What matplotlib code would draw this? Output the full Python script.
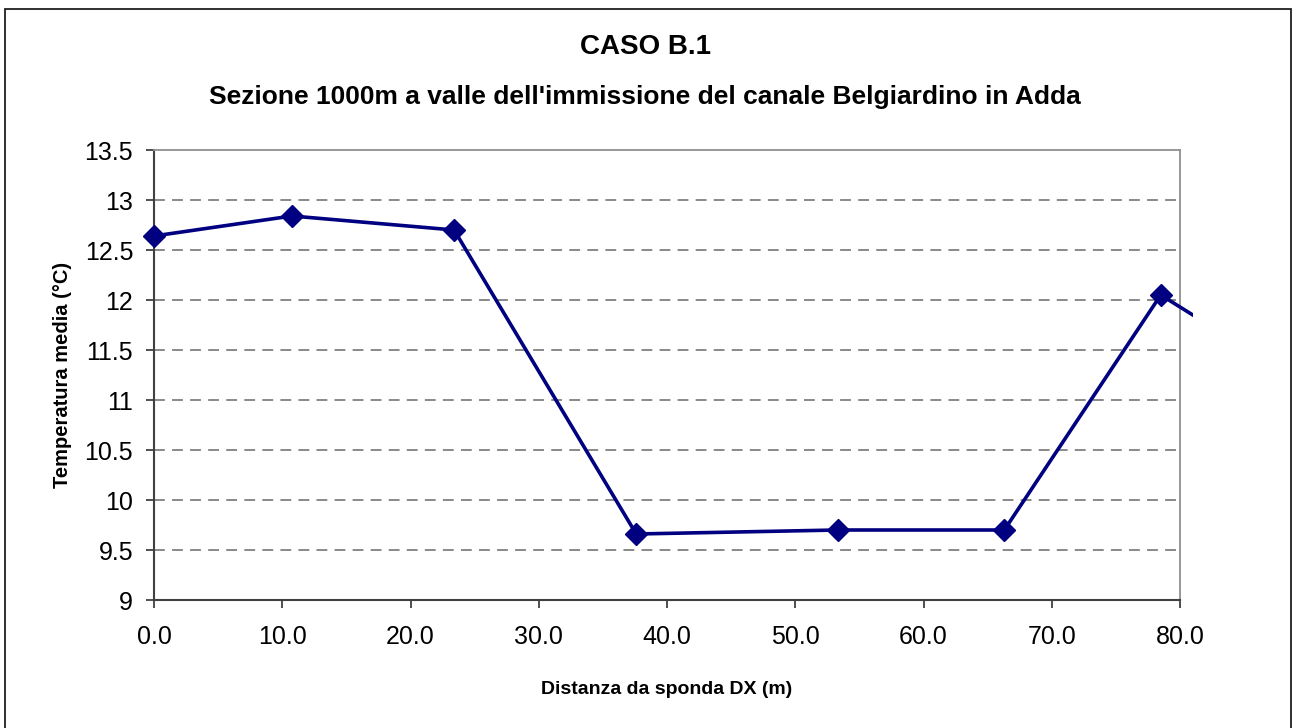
"""CASO B.1 - temperatura media lungo la sezione"""
import matplotlib
matplotlib.use("Agg")
import matplotlib.pyplot as plt
from matplotlib.patches import Rectangle

plt.rcParams["font.family"] = ["Liberation Sans", "DejaVu Sans"]

# Distanza da sponda DX (m) e temperatura media (°C)
distanza = [0.0, 10.75, 23.4, 37.6, 53.3, 66.3, 78.5, 91.0]
temperatura = [12.64, 12.84, 12.70, 9.66, 9.70, 9.70, 12.05, 11.05]

x_ticks = [0, 10, 20, 30, 40, 50, 60, 70, 80]
y_ticks = [9, 9.5, 10, 10.5, 11, 11.5, 12, 12.5, 13, 13.5]
y_tick_labels = ["9", "9.5", "10", "10.5", "11", "11.5", "12", "12.5", "13", "13.5"]

W, H = 1292, 728
fig = plt.figure(figsize=(W / 100, H / 100), dpi=100)
ax = fig.add_axes([154 / W, 1 - 600 / H, (1180 - 154) / W, (600 - 150) / H])

# cornice esterna (il lato inferiore resta fuori dall'immagine)
fig.patches.append(Rectangle((5 / W, -0.05), (1291 - 5) / W, 1.05 - 9 / H,
                             transform=fig.transFigure, fill=False,
                             edgecolor="#202020", linewidth=1.3))

line, = ax.plot(distanza, temperatura, color="#000080", linewidth=2.6,
                marker="D", markersize=11, markerfacecolor="#000080",
                markeredgecolor="#000080", zorder=5)
# la linea esce di poco oltre il bordo destro, come nell'originale
clip = Rectangle((-0.02, -0.05), 1.0124 + 0.02, 1.1, transform=ax.transAxes,
                 fill=False, visible=False)
ax.add_patch(clip)
line.set_clip_path(clip)

ax.set_xlim(0, 80)
ax.set_ylim(9, 13.5)
ax.set_xticks(x_ticks)
ax.set_xticklabels([f"{v:.1f}" for v in x_ticks])
ax.set_yticks(y_ticks)
ax.set_yticklabels(y_tick_labels)

for y in y_ticks[1:-1]:
    ax.axhline(y, color="#808080", linewidth=1.3, linestyle=(0, (6, 4)), zorder=1)

for s in ["top", "right"]:
    ax.spines[s].set_color("#909090")
    ax.spines[s].set_linewidth(1.3)
for s in ["left", "bottom"]:
    ax.spines[s].set_color("#404040")
    ax.spines[s].set_linewidth(1.5)

ax.tick_params(axis="both", direction="out", length=6, width=1.3,
               color="#404040", labelsize=18)
ax.tick_params(axis="y", pad=9)
ax.tick_params(axis="x", pad=12)

ax.set_xlabel("Distanza da sponda DX (m)", fontsize=14, fontweight="bold",
              labelpad=23)
ax.set_ylabel("Temperatura media (°C)", fontsize=14.5, fontweight="bold",
              labelpad=9)

fig.text(645 / W, 1 - 47 / H, "CASO B.1", ha="center", va="center",
         fontsize=20, fontweight="bold")
fig.text(645 / W, 1 - 97 / H,
         "Sezione 1000m a valle dell'immissione del canale Belgiardino in Adda",
         ha="center", va="center", fontsize=19, fontweight="bold")

fig.savefig("out.png", dpi=100)
